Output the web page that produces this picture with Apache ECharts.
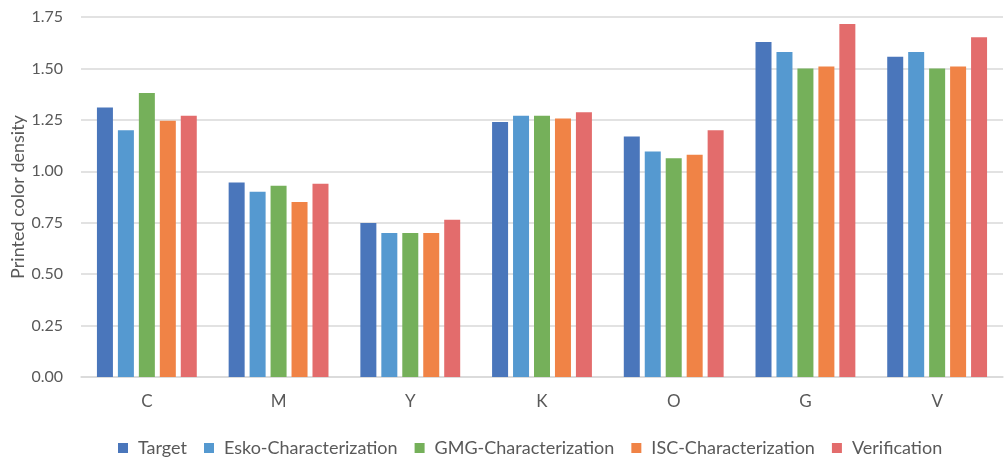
<!DOCTYPE html>
<html>
<head>
<meta charset="utf-8">
<script src="https://cdn.jsdelivr.net/npm/echarts@6/dist/echarts.min.js"></script>
<style>
  html, body { margin: 0; padding: 0; background: #ffffff; }
  #chart { width: 1004px; height: 457px; }
</style>
</head>
<body>
<div id="chart"></div>
<script>
// Printed color density per ink channel
const categories = ['C', 'M', 'Y', 'K', 'O', 'G', 'V'];
const target       = [1.31, 0.946, 0.749, 1.24, 1.169, 1.629, 1.557];
const esko         = [1.20, 0.90, 0.70, 1.27, 1.096, 1.58, 1.58];
const gmg          = [1.381, 0.93, 0.70, 1.27, 1.063, 1.50, 1.50];
const isc          = [1.246, 0.851, 0.70, 1.256, 1.08, 1.509, 1.509];
const verification = [1.27, 0.94, 0.764, 1.287, 1.20, 1.716, 1.651];
const yTicks = { min: 0, max: 1.75, interval: 0.25 };

const seriesDefs = [
  { name: 'Target', data: target, color: '#4a76bb' },
  { name: 'Esko-Characterization', data: esko, color: '#5599d0' },
  { name: 'GMG-Characterization', data: gmg, color: '#75b05a' },
  { name: 'ISC-Characterization', data: isc, color: '#f08346' },
  { name: 'Verification', data: verification, color: '#e36c6c' }
];

const font = 'Lato, "Open Sans", sans-serif';
const textColor = '#595959';

const chart = echarts.init(document.getElementById('chart'), null, { renderer: 'canvas' });
chart.setOption({
  animation: false,
  textStyle: { fontFamily: font },
  grid: {
    left: 81, right: 1, top: 17, bottom: 80,
    containLabel: false, outerBoundsMode: 'none'
  },
  legend: {
    top: 434,
    left: 113,
    itemWidth: 10,
    itemHeight: 10,
    itemGap: 17,
    icon: 'rect',
    textStyle: { fontFamily: font, fontSize: 18, color: textColor, padding: [0, 0, 0, 5] },
    data: seriesDefs.map(s => s.name)
  },
  xAxis: {
    type: 'category',
    data: categories,
    axisLine: { lineStyle: { color: '#d9d9d9', width: 1.5 } },
    axisTick: { show: false },
    axisLabel: { fontFamily: font, fontSize: 17, color: textColor, margin: 16 }
  },
  yAxis: {
    type: 'value',
    min: yTicks.min,
    max: yTicks.max,
    interval: yTicks.interval,
    name: 'Printed color density',
    nameLocation: 'middle',
    nameGap: 54,
    nameRotate: 90,
    nameMoveOverlap: false,
    nameTextStyle: { fontFamily: font, fontSize: 18, color: textColor },
    axisLine: { show: false },
    axisTick: { show: false },
    axisLabel: {
      fontFamily: font, fontSize: 16, color: textColor, margin: 18,
      formatter: v => v.toFixed(2)
    },
    splitLine: { lineStyle: { color: '#d9d9d9', width: 1.5 } }
  },
  series: seriesDefs.map(s => ({
    name: s.name,
    type: 'bar',
    data: s.data,
    barWidth: 16,
    barGap: '31%',
    itemStyle: { color: s.color }
  }))
});
</script>
</body>
</html>
